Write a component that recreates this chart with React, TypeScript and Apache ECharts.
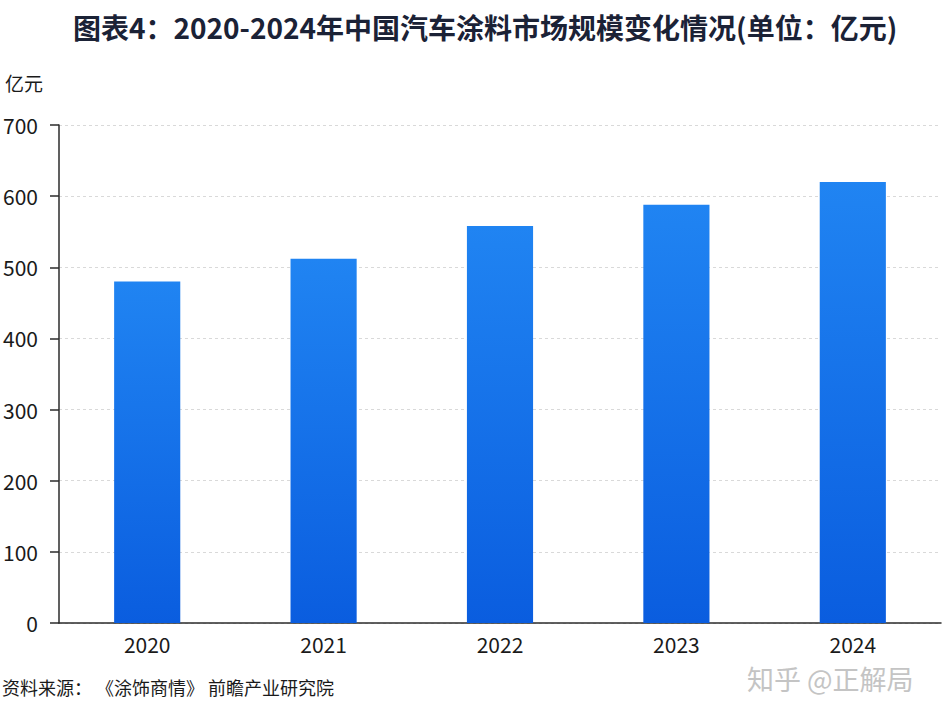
import React, { useEffect, useRef } from "react";
import * as echarts from "echarts";

const categories = ["2020", "2021", "2022", "2023", "2024"];
const marketSize = [480, 512, 558, 588, 620];
const yTicks = { min: 0, max: 700, interval: 100 };
const titleText = "图表4：2020-2024年中国汽车涂料市场规模变化情况(单位：亿元)";
const unitText = "亿元";
const sourceText = "资料来源： 《涂饰商情》 前瞻产业研究院";
const watermarkText = "知乎 @正解局";

const FONT = '"Noto Sans CJK SC", "Noto Sans", sans-serif';

export default function App() {
  const ref = useRef<HTMLDivElement>(null);

  useEffect(() => {
    document.body.style.margin = "0";
    const chart = echarts.init(ref.current!, null, { renderer: "svg" });
    chart.setOption({
      animation: false,
      backgroundColor: "#ffffff",
      textStyle: { fontFamily: FONT },
      grid: { left: 59, right: 5, top: 125, bottom: 95, containLabel: false },
      xAxis: {
        type: "category",
        data: categories,
        axisLine: { show: true, lineStyle: { color: "#2b2b2b", width: 1.5 } },
        axisTick: { show: false },
        axisLabel: { color: "#1a1a1a", fontSize: 21, margin: 10, lineHeight: 22, fontFamily: FONT },
        splitLine: { show: false },
      },
      yAxis: {
        type: "value",
        min: yTicks.min,
        max: yTicks.max,
        interval: yTicks.interval,
        axisLine: { show: true, lineStyle: { color: "#2b2b2b", width: 1.5 } },
        axisTick: { show: true, length: 9, lineStyle: { color: "#2b2b2b", width: 1.5 } },
        axisLabel: { color: "#1a1a1a", fontSize: 21, margin: 21, fontFamily: FONT },
        splitLine: { show: true, lineStyle: { color: "#d9d9d9", type: [3, 3], width: 1 } },
      },
      series: [
        {
          type: "bar",
          data: marketSize,
          barWidth: "37.5%",
          itemStyle: {
            color: new echarts.graphic.LinearGradient(0, 0, 0, 1, [
              { offset: 0, color: "#2084f2" },
              { offset: 1, color: "#0a5ddf" },
            ]),
          },
        },
      ],
      graphic: [
        {
          type: "text",
          left: 73,
          top: 13,
          style: {
            text: titleText,
            font: `bold 28px ${FONT}`,
            fill: "#1b2236",
          },
        },
        {
          type: "text",
          left: 5,
          top: 73,
          style: { text: unitText, font: `19px ${FONT}`, fill: "#1a1a1a" },
        },
        {
          type: "text",
          left: 2,
          top: 678,
          style: { text: sourceText, font: `18px ${FONT}`, fill: "#1a1a1a" },
        },
        {
          type: "text",
          left: 747,
          top: 665,
          style: {
            text: watermarkText,
            font: `27px ${FONT}`,
            fill: "#c4c4c4",
          },
        },
      ],
    });
    return () => chart.dispose();
  }, []);

  return <div ref={ref} style={{ width: 946, height: 718 }} />;
}
